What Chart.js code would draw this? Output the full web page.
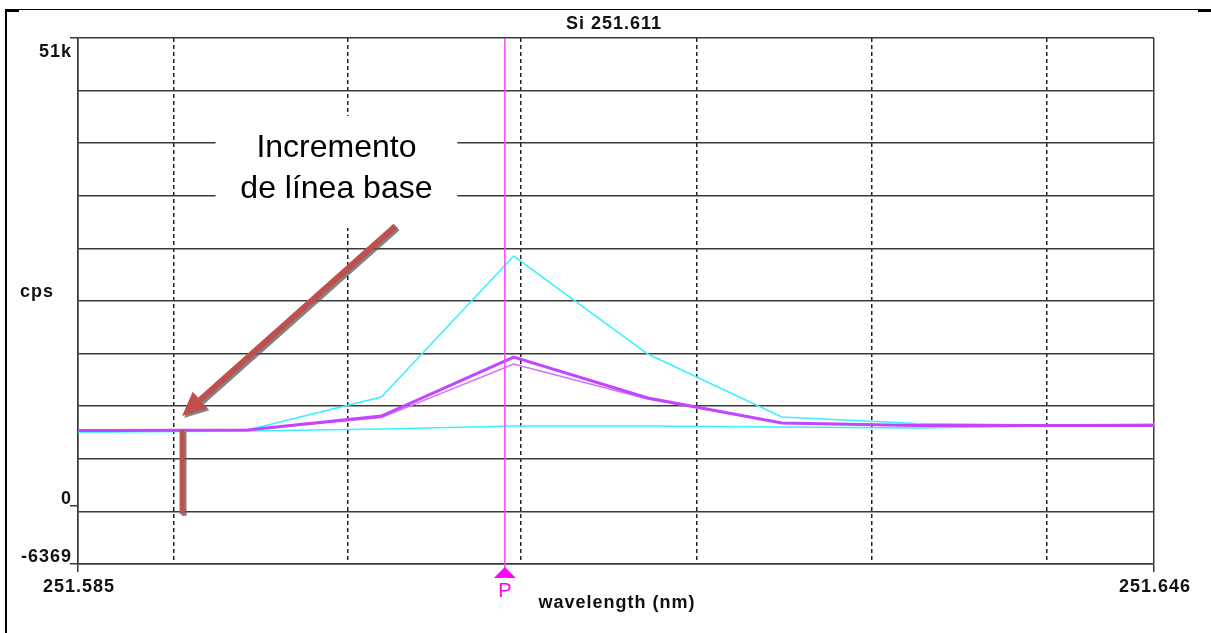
<!DOCTYPE html>
<html>
<head>
<meta charset="utf-8">
<title>Si 251.611</title>
<script src="https://cdn.jsdelivr.net/npm/chart.js@4.4.1/dist/chart.umd.min.js"></script>
<style>
  html, body { margin: 0; padding: 0; background: #fff; overflow: hidden; }
  canvas { display: block; }
</style>
</head>
<body>
<canvas id="spectrum" width="1211" height="633"></canvas>
<script>
// Spectral samples around the Si 251.611 nm line (wavelength in nm, intensity in cps)
const wavelengths   = [251.585, 251.5870, 251.5946, 251.6022, 251.6097, 251.6173, 251.6249, 251.6325, 251.6401, 251.646];
const cpsCyanPeak   = [8140, 8140, 8250, 11840, 27220, 16530, 9660, 8960, 8790, 8900];
const cpsCyanFlat   = [8030, 8030, 8140, 8350, 8680, 8680, 8570, 8460, 8680, 8680];
const cpsMagenta    = [8190, 8190, 8250, 9770, 16200, 11740, 9010, 8740, 8740, 8740];
const cpsMagentaB   = [8190, 8190, 8250, 9600, 15440, 11630, 9010, 8740, 8740, 8740];

// Axis ranges and labels
const xMin = 251.585, xMax = 251.646;
const xDashedGrid   = [251.5904, 251.6003, 251.6101, 251.6201, 251.6300, 251.6399];
const xTickValues   = [251.585, 251.646];
const xTickText     = ['251.585', '251.646'];
const yMin = -6369, yMax = 51000;
const yTickValues   = [51000, 0, -6369];
const yTickText     = ['51k', '0', '-6369'];
const yDivisions    = 10;

const chartTitle  = 'Si 251.611';
const xAxisTitle  = 'wavelength (nm)';
const yAxisTitle  = 'cps';
const peakWavelength = 251.6092;
const peakLabel   = 'P';

// Baseline-increase note
const noteLines   = ['Incremento', 'de línea base'];
const noteBox     = { x0: 251.5928, x1: 251.6065, y0: 42490, y1: 30280 };
const arrowTail   = { x: 251.6030, y: 30500 };
const arrowTip    = { x: 251.5909, y: 9770 };
const baselineBar = { x: 251.5909, yTop: 8245, yBottom: -900 };

const GRID = '#3a3a3a';
const LABEL_FONT = 'bold 18px "Liberation Sans", Arial, sans-serif';

const toPoints = (vals) => wavelengths.map((w, i) => ({ x: w, y: vals[i] }));

const yGridValues = [];
for (let k = 0; k <= yDivisions; k++) yGridValues.push(yMin + (yMax - yMin) * k / yDivisions);

function drawText(ctx, text, x, y, align, font, color, spacing) {
  ctx.save();
  ctx.font = font;
  ctx.fillStyle = color;
  ctx.textAlign = align;
  ctx.textBaseline = 'alphabetic';
  if ('letterSpacing' in ctx) ctx.letterSpacing = spacing || '0px';
  ctx.fillText(text, x, y);
  ctx.restore();
}

const overlay = {
  id: 'overlay',
  afterDatasetsDraw(chart) {
    const { ctx, chartArea: a, scales: { x, y } } = chart;

    // Note box hiding the grid behind the text
    const bx0 = x.getPixelForValue(noteBox.x0), bx1 = x.getPixelForValue(noteBox.x1);
    const by0 = y.getPixelForValue(noteBox.y0), by1 = y.getPixelForValue(noteBox.y1);
    ctx.save();
    ctx.fillStyle = '#ffffff';
    ctx.fillRect(bx0, by0, bx1 - bx0, by1 - by0);
    ctx.restore();
    const cx = (bx0 + bx1) / 2;
    drawText(ctx, noteLines[0], cx, by0 + 41, 'center', '32px "Liberation Sans", Arial, sans-serif', '#000');
    drawText(ctx, noteLines[1], cx, by0 + 82, 'center', '32px "Liberation Sans", Arial, sans-serif', '#000');

    // Peak position marker
    const px = x.getPixelForValue(peakWavelength);
    ctx.save();
    ctx.strokeStyle = '#ff40ff';
    ctx.lineWidth = 1.5;
    ctx.beginPath();
    ctx.moveTo(px, a.top);
    ctx.lineTo(px, a.bottom + 4);
    ctx.stroke();
    ctx.fillStyle = '#ff00ff';
    ctx.beginPath();
    ctx.moveTo(px, a.bottom + 3);
    ctx.lineTo(px - 11, a.bottom + 14);
    ctx.lineTo(px + 11, a.bottom + 14);
    ctx.closePath();
    ctx.fill();
    ctx.restore();
    drawText(ctx, peakLabel, px, a.bottom + 33, 'center', '20px "Liberation Sans", Arial, sans-serif', '#ff00ff');

    // Arrow pointing at the raised baseline, with a drop shadow
    const tx = x.getPixelForValue(arrowTail.x), ty = y.getPixelForValue(arrowTail.y);
    const hx = x.getPixelForValue(arrowTip.x), hy = y.getPixelForValue(arrowTip.y);
    const ang = Math.atan2(hy - ty, hx - tx);
    const headLen = 24, headHalf = 11;
    const baseX = hx - headLen * Math.cos(ang), baseY = hy - headLen * Math.sin(ang);
    const bbx = x.getPixelForValue(baselineBar.x);
    const bTop = y.getPixelForValue(baselineBar.yTop), bBot = y.getPixelForValue(baselineBar.yBottom);
    ctx.save();
    ctx.shadowColor = 'rgba(90,90,90,0.75)';
    ctx.shadowOffsetX = 2;
    ctx.shadowOffsetY = 2;
    ctx.shadowBlur = 0;
    ctx.strokeStyle = '#c0504d';
    ctx.fillStyle = '#c0504d';
    ctx.lineWidth = 6;
    ctx.lineCap = 'butt';
    ctx.beginPath();
    ctx.moveTo(tx, ty);
    ctx.lineTo(baseX, baseY);
    ctx.stroke();
    ctx.beginPath();
    ctx.moveTo(hx, hy);
    ctx.lineTo(baseX + headHalf * Math.sin(ang), baseY - headHalf * Math.cos(ang));
    ctx.lineTo(baseX - headHalf * Math.sin(ang), baseY + headHalf * Math.cos(ang));
    ctx.closePath();
    ctx.fill();
    ctx.lineWidth = 5;
    ctx.beginPath();
    ctx.moveTo(bbx, bTop);
    ctx.lineTo(bbx, bBot);
    ctx.stroke();
    ctx.restore();
  },
  afterDraw(chart) {
    const { ctx, chartArea: a, scales: { x, y } } = chart;

    // Title
    drawText(ctx, chartTitle, (a.left + a.right) / 2 - 2, a.top - 9, 'center', LABEL_FONT, '#111', '1px');

    // Y tick labels
    yTickValues.forEach((v, i) => {
      const py = y.getPixelForValue(v);
      const base = (v === yMax) ? py + 19 : py - 2;
      drawText(ctx, yTickText[i], a.left - 6, base, 'right', LABEL_FONT, '#111', '1px');
    });
    // X tick labels
    xTickValues.forEach((v, i) => {
      const pxl = x.getPixelForValue(v);
      drawText(ctx, xTickText[i], pxl + 1, a.bottom + 28, 'center', LABEL_FONT, '#111', '1px');
    });
    // Axis titles
    drawText(ctx, yAxisTitle, 37, (a.top + a.bottom) / 2 - 4, 'center', LABEL_FONT, '#111', '1px');
    drawText(ctx, xAxisTitle, (a.left + a.right) / 2 + 1, a.bottom + 44, 'center', LABEL_FONT, '#111', '1px');

    // Window frame
    ctx.save();
    ctx.fillStyle = '#000';
    ctx.fillRect(5, 9, 1206, 1);
    ctx.fillRect(5, 9, 2, 624);
    ctx.fillRect(5, 9, 14, 3);
    ctx.fillRect(1198, 9, 13, 3);
    ctx.restore();
  }
};

new Chart(document.getElementById('spectrum'), {
  type: 'line',
  data: {
    datasets: [
      { label: 'replicate 1', data: toPoints(cpsMagenta),  borderColor: '#c445ff', borderWidth: 3 },
      { label: 'replicate 2', data: toPoints(cpsMagentaB), borderColor: '#d070ff', borderWidth: 1.5 },
      { label: 'sample',      data: toPoints(cpsCyanPeak), borderColor: '#38f0ff', borderWidth: 1.5 },
      { label: 'blank',       data: toPoints(cpsCyanFlat), borderColor: '#38f0ff', borderWidth: 1.5 }
    ]
  },
  options: {
    responsive: false,
    devicePixelRatio: 1,
    animation: false,
    parsing: true,
    layout: { padding: { left: 70, top: 38, right: 57, bottom: 61 } },
    elements: { point: { radius: 0 }, line: { tension: 0 } },
    plugins: { legend: { display: false }, tooltip: { enabled: false }, title: { display: false } },
    scales: {
      x: {
        type: 'linear',
        min: xMin,
        max: xMax,
        afterBuildTicks: (scale) => {
          scale.ticks = [xMin, ...xDashedGrid, xMax].map(v => ({ value: v }));
        },
        ticks: { display: false, autoSkip: false },
        grid: {
          color: (c) => (c.tick && xDashedGrid.includes(c.tick.value)) ? '#222' : GRID,
          lineWidth: 1.5,
          drawTicks: true,
          tickLength: 8,
          tickColor: (c) => (c.tick && xTickValues.includes(c.tick.value)) ? GRID : 'rgba(0,0,0,0)'
        },
        border: {
          display: true,
          color: GRID,
          width: 1.5,
          dash: (c) => (c.tick && xDashedGrid.includes(c.tick.value)) ? [4, 3] : []
        }
      },
      y: {
        type: 'linear',
        min: yMin,
        max: yMax,
        afterBuildTicks: (scale) => {
          const vals = yGridValues.concat([0]).sort((p, q) => p - q);
          scale.ticks = vals.map(v => ({ value: v }));
        },
        ticks: { display: false, autoSkip: false },
        grid: {
          color: (c) => (c.tick && c.tick.value === 0) ? 'rgba(0,0,0,0)' : GRID,
          lineWidth: 1.5,
          drawTicks: true,
          tickLength: 8,
          tickColor: (c) => (c.tick && yTickValues.includes(c.tick.value)) ? GRID : 'rgba(0,0,0,0)'
        },
        border: { display: true, color: GRID, width: 1.5 }
      }
    }
  },
  plugins: [overlay]
});
</script>
</body>
</html>
